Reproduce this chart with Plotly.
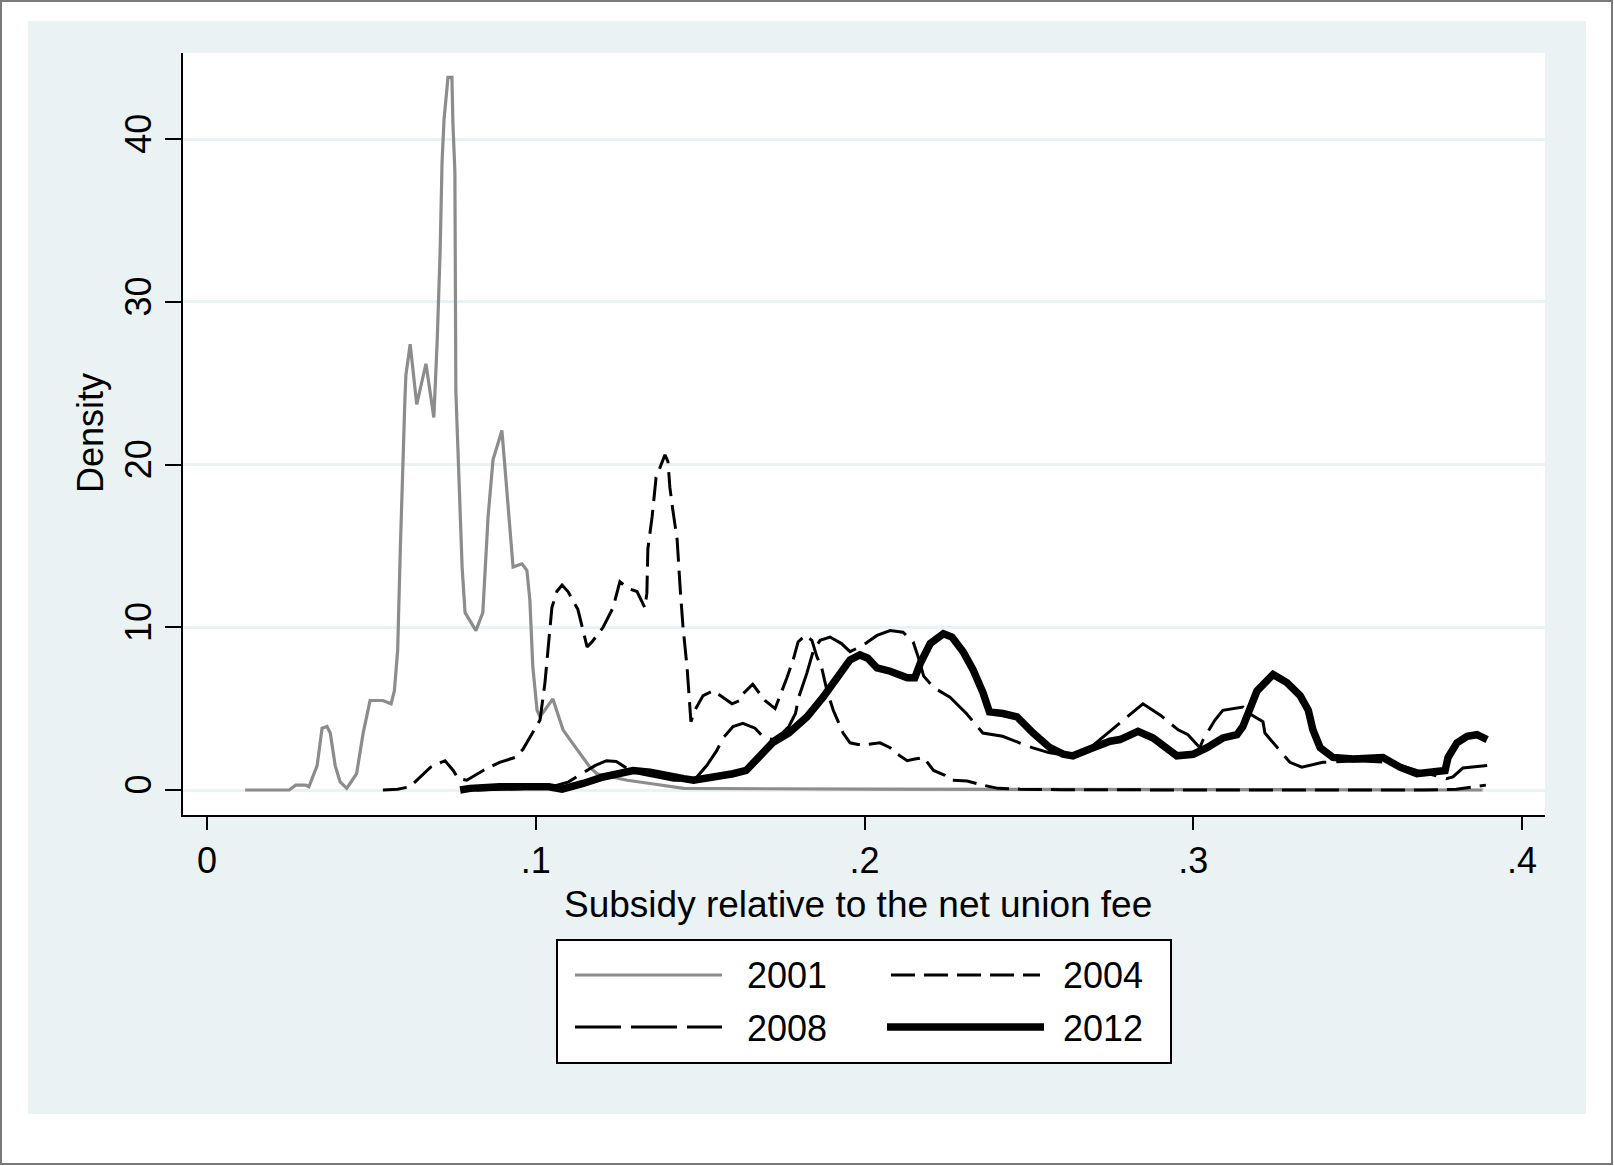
import plotly.graph_objects as go

# ---------------- data ----------------
x2001 = [0.0116, 0.025, 0.027, 0.030, 0.031, 0.0335, 0.035, 0.0365, 0.0375, 0.039, 0.0405, 0.0425,
         0.0435, 0.0455, 0.0475, 0.0496, 0.0535, 0.056, 0.057, 0.058, 0.0588, 0.0596, 0.0602, 0.0605,
         0.0618, 0.0638, 0.0666, 0.069, 0.0700, 0.0709, 0.0715, 0.0721, 0.0733, 0.0745, 0.0748, 0.0754,
         0.0757, 0.0763, 0.0776, 0.0785, 0.0818, 0.0839, 0.0855, 0.0870, 0.0897, 0.0906, 0.0922, 0.0931,
         0.0958, 0.0973, 0.0982, 0.0991, 0.1004, 0.1013, 0.1052, 0.1083, 0.1104, 0.1144, 0.1165, 0.1186,
         0.1278, 0.1348, 0.145, 0.20, 0.30, 0.388]
y2001 = [0.0, 0.0, 0.3, 0.3, 0.2, 1.5, 3.8, 3.9, 3.5, 1.5, 0.5, 0.1,
         0.4, 1.0, 3.5, 5.5, 5.5, 5.3, 6.1, 8.6, 14.8, 20.9, 24.0, 25.5,
         27.4, 23.7, 26.2, 22.9, 27.5, 33.0, 38.6, 41.2, 43.8, 43.8, 41.0, 38.0,
         24.5, 21.1, 13.7, 10.9, 9.8, 10.9, 16.8, 20.3, 22.1, 19.9, 15.8, 13.7,
         13.9, 13.5, 11.7, 7.6, 4.9, 4.5, 5.6, 3.7, 3.1, 2.0, 1.4, 1.0,
         0.6, 0.4, 0.1, 0.05, 0.02, 0.0]

x2004 = [0.0535, 0.058, 0.0617, 0.0638, 0.066, 0.068, 0.0724, 0.0749, 0.0764, 0.079, 0.084, 0.089,
         0.0937, 0.0961, 0.099, 0.1013, 0.1028, 0.1037, 0.1049, 0.1064, 0.108, 0.1098, 0.1128, 0.1144,
         0.1156, 0.1171, 0.1205, 0.1235, 0.1256, 0.128, 0.1308, 0.1332, 0.1338, 0.1341, 0.1354, 0.1366,
         0.1384, 0.1393, 0.1402, 0.1408, 0.1417, 0.143, 0.1439, 0.1448, 0.146, 0.1466, 0.1472, 0.1484,
         0.1509, 0.154, 0.1567, 0.1597, 0.1621, 0.163, 0.166, 0.1697, 0.1728, 0.175, 0.1764, 0.1783,
         0.1798, 0.1819, 0.184, 0.1855, 0.187, 0.1886, 0.1905, 0.1935, 0.1956, 0.198, 0.2008, 0.2047,
         0.2078, 0.21, 0.213, 0.2153, 0.218, 0.221, 0.2245, 0.2266, 0.2312, 0.236, 0.2406, 0.2473,
         0.26, 0.30, 0.37, 0.38, 0.385, 0.389]
y2004 = [0.0, 0.05, 0.2, 0.6, 1.0, 1.4, 1.8, 1.2, 0.7, 0.6, 1.2, 1.7,
         2.0, 2.5, 3.5, 4.3, 6.6, 8.6, 11.2, 12.2, 12.6, 12.2, 11.1, 9.8,
         8.8, 9.1, 10.0, 11.2, 12.8, 12.4, 12.2, 11.2, 12.1, 14.8, 16.8, 19.2,
         20.2, 20.6, 20.2, 18.6, 17.2, 15.4, 12.5, 10.0, 7.6, 5.5, 4.2, 4.9,
         5.8, 6.1, 5.7, 5.3, 5.5, 5.9, 6.5, 5.5, 5.0, 6.1, 6.9, 8.0,
         9.1, 9.5, 9.2, 8.2, 7.5, 6.1, 4.9, 3.5, 2.9, 2.8, 2.8, 2.9,
         2.6, 2.2, 1.8, 1.9, 2.0, 1.2, 0.9, 0.6, 0.55, 0.3, 0.1, 0.05,
         0.02, 0.0, 0.0, 0.05, 0.2, 0.3]

x2008 = [0.082, 0.09, 0.1, 0.105, 0.11, 0.114, 0.118, 0.1215, 0.1245, 0.128, 0.132, 0.137,
         0.142, 0.147, 0.149, 0.152, 0.155, 0.157, 0.16, 0.163, 0.1667, 0.169, 0.172, 0.175,
         0.177, 0.179, 0.18, 0.1825, 0.1845, 0.1865, 0.1895, 0.193, 0.1956, 0.1996, 0.2038, 0.2078,
         0.2117, 0.2148, 0.2163, 0.218, 0.221, 0.226, 0.231, 0.236, 0.242, 0.251, 0.256, 0.262,
         0.267, 0.2716, 0.2817, 0.2847, 0.29, 0.2954, 0.2984, 0.302, 0.303, 0.3066, 0.309, 0.3151,
         0.3178, 0.3212, 0.3218, 0.3294, 0.333, 0.3394, 0.35, 0.36, 0.368, 0.373, 0.377, 0.379,
         0.382, 0.3894]
y2008 = [0.0, 0.05, 0.1, 0.2, 0.5, 1.0, 1.5, 1.8, 1.75, 1.3, 1.0, 0.8,
         0.6, 0.6, 0.8, 1.5, 2.4, 3.2, 3.9, 4.1, 3.8, 3.3, 3.1, 3.5,
         3.9, 4.7, 5.7, 7.2, 8.6, 9.2, 9.4, 9.0, 8.5, 8.9, 9.5, 9.8,
         9.7, 9.1, 8.2, 7.0, 6.3, 5.7, 4.7, 3.5, 3.3, 2.6, 2.3, 2.1,
         2.3, 3.1, 4.8, 5.3, 4.6, 3.7, 3.4, 2.6, 3.1, 4.3, 4.9, 5.1,
         4.6, 4.2, 3.5, 1.7, 1.4, 1.7, 1.8, 1.7, 1.2, 0.9, 0.7, 0.8,
         1.35, 1.5]

x2012 = [0.077, 0.08, 0.089, 0.098, 0.104, 0.108, 0.111, 0.1144, 0.1205, 0.1247, 0.1296, 0.1348,
         0.14, 0.145, 0.148, 0.155, 0.16, 0.164, 0.168, 0.172, 0.177, 0.1825, 0.1874, 0.1916,
         0.1956, 0.1986, 0.201, 0.2038, 0.2078, 0.213, 0.2153, 0.217, 0.22, 0.224, 0.2266, 0.23,
         0.233, 0.236, 0.238, 0.2421, 0.2464, 0.2513, 0.2564, 0.2604, 0.2634, 0.2695, 0.2747, 0.2777,
         0.2832, 0.2878, 0.292, 0.295, 0.3, 0.3042, 0.309, 0.3133, 0.3151, 0.3172, 0.3194, 0.3243,
         0.3285, 0.3325, 0.335, 0.3364, 0.3386, 0.3425, 0.3486, 0.3577, 0.3629, 0.368, 0.373, 0.3766,
         0.3775, 0.3802, 0.3833, 0.3863, 0.3894]
y2012 = [0.0, 0.1, 0.2, 0.2, 0.2, 0.05, 0.2, 0.4, 0.8, 1.0, 1.2, 1.1,
         0.85, 0.7, 0.6, 0.8, 1.0, 1.2, 2.0, 2.9, 3.5, 4.5, 5.7, 6.9,
         8.0, 8.3, 8.1, 7.5, 7.3, 6.9, 6.9, 7.8, 9.0, 9.6, 9.4, 8.5,
         7.4, 6.0, 4.8, 4.7, 4.5, 3.5, 2.6, 2.2, 2.1, 2.6, 3.0, 3.1,
         3.6, 3.2, 2.5, 2.1, 2.2, 2.6, 3.2, 3.4, 3.9, 4.9, 6.1, 7.1,
         6.6, 5.8, 4.9, 3.7, 2.6, 2.0, 1.9, 2.0, 1.4, 1.0, 1.1, 1.2,
         2.0, 2.9, 3.3, 3.4, 3.1]

series_names = ["2001", "2004", "2008", "2012"]
x_tick_vals = [0, 0.1, 0.2, 0.3, 0.4]
x_tick_text = ["0", ".1", ".2", ".3", ".4"]
y_tick_vals = [0, 10, 20, 30, 40]
y_tick_text = ["0", "10", "20", "30", "40"]

# ---------------- styling / layout ----------------
W, H = 1614, 1166
L, R, T, B = 183, 1545, 53, 815          # plot area in pixels
FONT = "Liberation Sans, Arial, sans-serif"
BG = "#EAF2F3"

def px(xp):
    return (xp - L) / (R - L)

def py(yp):
    return (B - yp) / (B - T)

styles = {
    "2001": dict(color="#8C8C8C", width=3.2, dash="solid"),
    "2004": dict(color="black", width=3, dash="24px,9px"),
    "2008": dict(color="black", width=3, dash="46px,10px"),
    "2012": dict(color="black", width=7.5, dash="solid"),
}

fig = go.Figure()
for name, xs, ys in zip(series_names, [x2001, x2004, x2008, x2012], [y2001, y2004, y2008, y2012]):
    fig.add_trace(go.Scatter(x=xs, y=ys, mode="lines", name=name,
                             line=styles[name], showlegend=False))

shapes = []
annotations = []

# outer white border strips and frame
for x0, y0, x1, y1 in [(0, 0, W, 21), (0, 1114, W, H), (0, 0, 28, H), (1586, 0, W, H)]:
    shapes.append(dict(type="rect", xref="paper", yref="paper",
                       x0=px(x0), x1=px(x1), y0=py(y1), y1=py(y0),
                       fillcolor="white", line=dict(width=0), layer="above"))
shapes.append(dict(type="rect", xref="paper", yref="paper",
                   x0=px(1), x1=px(W - 2), y0=py(H - 2), y1=py(1),
                   fillcolor="rgba(0,0,0,0)", line=dict(color="#7A7A7A", width=2), layer="above"))

# legend box
shapes.append(dict(type="rect", xref="paper", yref="paper",
                   x0=px(557), x1=px(1171), y0=py(1063), y1=py(940),
                   fillcolor="white", line=dict(color="black", width=2), layer="above"))
legend_items = [("2001", 575, 722, 975, 745), ("2004", 891, 1040, 975, 1061),
                ("2008", 575, 722, 1027, 745), ("2012", 887, 1044, 1027, 1061)]
for name, lx0, lx1, ly, tx in legend_items:
    st = styles[name]
    shapes.append(dict(type="line", xref="paper", yref="paper",
                       x0=px(lx0), x1=px(lx1), y0=py(ly), y1=py(ly),
                       line=dict(color=st["color"], width=st["width"], dash=st["dash"]),
                       layer="above"))
    annotations.append(dict(text=name, xref="paper", yref="paper", x=px(tx), y=py(ly + 1),
                            xanchor="left", yanchor="middle", showarrow=False,
                            font=dict(family=FONT, size=36, color="black")))

# axis titles
annotations.append(dict(text="Subsidy relative to the net union fee", xref="paper", yref="paper",
                        x=px(858), y=py(904), xanchor="center", yanchor="middle", showarrow=False,
                        font=dict(family=FONT, size=37, color="black")))
annotations.append(dict(text="Density", xref="paper", yref="paper",
                        x=px(90), y=py(433), xanchor="center", yanchor="middle", showarrow=False,
                        textangle=-90, font=dict(family=FONT, size=36, color="black")))

x_range = [(L - 207) / 3287.5, (R - 207) / 3287.5]
y_range = [(790 - B) / 16.27, (790 - T) / 16.27]

fig.update_layout(
    width=W, height=H,
    margin=dict(l=L, r=W - R, t=T, b=H - B, pad=0),
    paper_bgcolor=BG, plot_bgcolor="white",
    font=dict(family=FONT, size=36, color="black"),
    shapes=shapes, annotations=annotations,
    showlegend=False,
    xaxis=dict(range=x_range, tickvals=x_tick_vals, ticktext=x_tick_text,
               showgrid=False, zeroline=False, showline=True, linecolor="black", linewidth=2,
               ticks="outside", ticklen=13, tickwidth=2, tickcolor="black",
               tickfont=dict(family=FONT, size=36, color="black")),
    yaxis=dict(range=y_range, tickvals=y_tick_vals, ticktext=y_tick_text, tickangle=-90,
               showgrid=True, gridcolor=BG, gridwidth=3, zeroline=False,
               showline=True, linecolor="black", linewidth=2,
               ticks="outside", ticklen=16, tickwidth=2, tickcolor="black",
               tickfont=dict(family=FONT, size=36, color="black")),
)

fig.write_html("out.html")
